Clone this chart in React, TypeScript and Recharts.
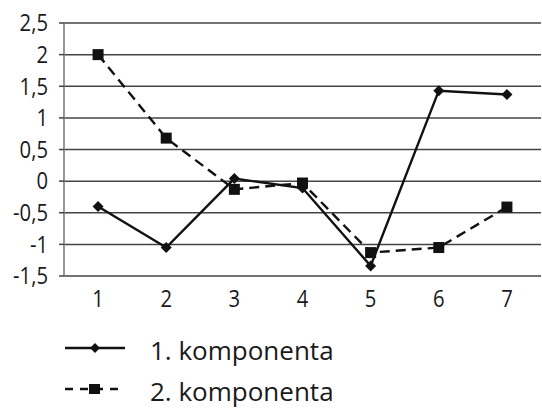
import {
  CartesianGrid,
  Legend,
  Line,
  LineChart,
  XAxis,
  YAxis,
} from "recharts";

document.body.style.margin = "0";

const components = [1, 2, 3, 4, 5, 6, 7];
const firstComponent = [-0.4, -1.05, 0.04, -0.11, -1.34, 1.43, 1.37];
const secondComponent = [2.0, 0.68, -0.13, -0.03, -1.13, -1.05, -0.41];
const yTicks = [-1.5, -1, -0.5, 0, 0.5, 1, 1.5, 2, 2.5];
const bandEdges = [0.5, 1.5, 2.5, 3.5, 4.5, 5.5, 6.5, 7.5];
const seriesNames = ["1. komponenta", "2. komponenta"];

const data = components.map((c, i) => ({
  c,
  k1: firstComponent[i],
  k2: secondComponent[i],
}));

const font = "'Open Sans', 'Noto Sans', sans-serif";

// decimal comma, as in the source publication
const fmt = (v: number) => String(v).replace(".", ",");

// slightly condensed tick text
function TickText(props: any) {
  const { x, y, payload, textAnchor, vertical } = props;
  return (
    <g transform={`translate(${x},${y}) scale(0.88,1)`}>
      <text
        x={0}
        y={0}
        dy={vertical ? "0.36em" : "0.71em"}
        textAnchor={textAnchor}
        fontSize={23}
        fontFamily={font}
        fill="#1a1a1a"
      >
        {vertical ? fmt(payload.value) : payload.value}
      </text>
    </g>
  );
}

function Diamond(props: any) {
  const { cx, cy } = props;
  if (cx == null || cy == null) return null;
  const r = 5.5;
  return (
    <path
      d={`M${cx},${cy - r} L${cx + r},${cy} L${cx},${cy + r} L${cx - r},${cy} Z`}
      fill="#111"
    />
  );
}

function Square(props: any) {
  const { cx, cy } = props;
  if (cx == null || cy == null) return null;
  return <rect x={cx - 5.5} y={cy - 5.5} width={11} height={11} fill="#111" />;
}

function LegendBox() {
  return (
    <div style={{ fontFamily: font, fontSize: 26, color: "#1a1a1a" }}>
      {seriesNames.map((name, i) => (
        <div
          key={name}
          style={{ display: "flex", alignItems: "center", height: 41 }}
        >
          <svg width={62} height={14} style={{ marginRight: 24, marginTop: -4 }}>
            <line
              x1={1}
              y1={7}
              x2={61}
              y2={7}
              stroke="#111"
              strokeWidth={2.4}
              strokeDasharray={i === 0 ? undefined : "8 7"}
            />
            {i === 0 ? (
              <path d="M31,2 L36,7 L31,12 L26,7 Z" fill="#111" />
            ) : (
              <rect x={25} y={2} width={11} height={10} fill="#111" />
            )}
          </svg>
          <span>{name}</span>
        </div>
      ))}
    </div>
  );
}

export default function App() {
  return (
    <LineChart
      width={542}
      height={410}
      data={data}
      margin={{ top: 23, right: 1, left: 0, bottom: 104 }}
    >
      <CartesianGrid horizontal vertical={false} stroke="#444" strokeWidth={1.5} />
      {/* tick marks between categories */}
      <XAxis
        xAxisId="edges"
        type="number"
        dataKey="c"
        domain={[0.5, 7.5]}
        ticks={bandEdges}
        height={0}
        tick={false}
        tickSize={6}
        tickLine={{ stroke: "#444", strokeWidth: 1.5 }}
        axisLine={{ stroke: "#222", strokeWidth: 1.5 }}
        allowDataOverflow
      />
      <XAxis
        xAxisId="labels"
        type="number"
        dataKey="c"
        domain={[0.5, 7.5]}
        ticks={components}
        height={30}
        tickLine={false}
        axisLine={false}
        tickMargin={9}
        tick={<TickText />}
      />
      <YAxis
        type="number"
        domain={[-1.5, 2.5]}
        ticks={yTicks}
        width={64}
        tickSize={5}
        tickMargin={11}
        interval={0}
        tickLine={{ stroke: "#444", strokeWidth: 1.5 }}
        axisLine={{ stroke: "#777", strokeWidth: 1.5 }}
        tick={<TickText vertical />}
      />
      <Legend
        layout="horizontal"
        verticalAlign="middle"
        align="center"
        wrapperStyle={{ top: 329, left: 64, width: 320 }}
        content={() => <LegendBox />}
      />
      <Line
        xAxisId="labels"
        dataKey="k1"
        name={seriesNames[0]}
        stroke="#111"
        strokeWidth={2.4}
        dot={<Diamond />}
        activeDot={false}
        isAnimationActive={false}
      />
      <Line
        xAxisId="labels"
        dataKey="k2"
        name={seriesNames[1]}
        stroke="#111"
        strokeWidth={2.4}
        strokeDasharray="10 6"
        dot={<Square />}
        activeDot={false}
        isAnimationActive={false}
      />
    </LineChart>
  );
}
